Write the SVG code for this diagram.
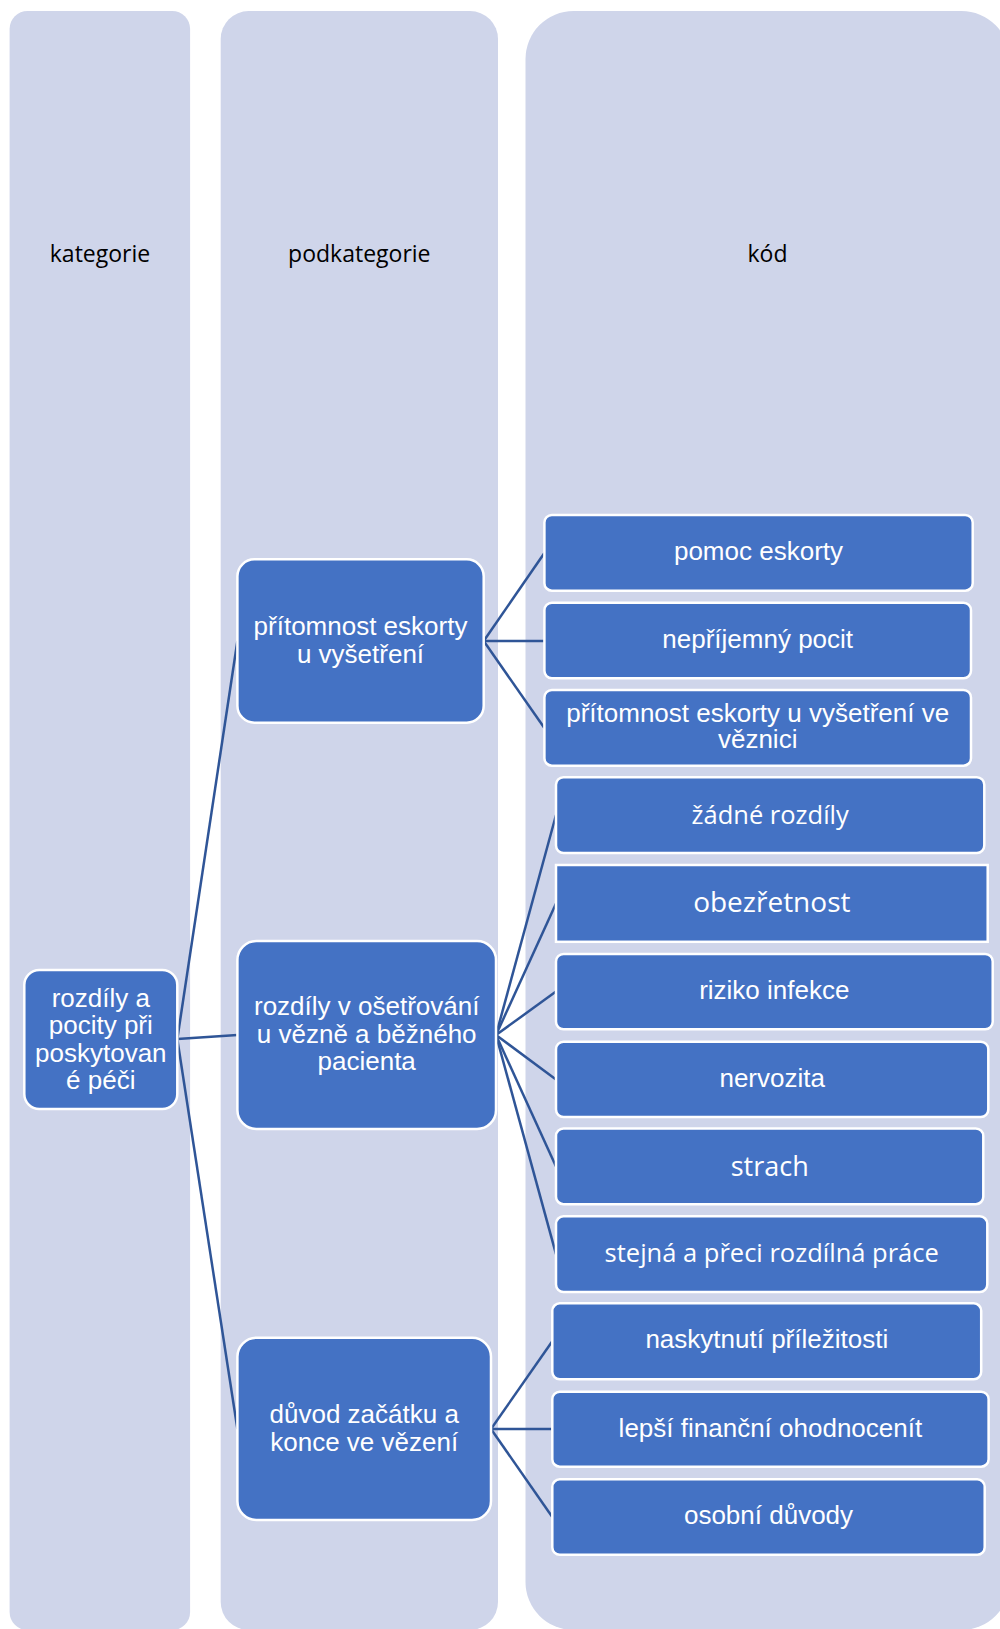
<svg xmlns="http://www.w3.org/2000/svg" width="1000" height="1629" viewBox="0 0 1000 1629">
<style>
.col{fill:#CFD5EA}
.hdr{font-family:"Open Sans","Liberation Sans",sans-serif;font-size:23px;fill:#000;text-anchor:middle}
.nd{fill:#4472C4;stroke:#FFFFFF;stroke-width:2.5}
.t{font-family:"Liberation Sans",Arial,sans-serif;font-size:26px;fill:#FFFFFF;text-anchor:middle}
.h{font-family:"Open Sans","Liberation Sans",sans-serif;font-size:25.5px;fill:#FFFFFF;text-anchor:middle}
.ln{stroke:#2F5597;stroke-width:2.5;fill:none}
</style>
<rect width="1000" height="1629" fill="#FFFFFF"/>
<g id="columns">
<rect class="col" x="9.6" y="11" width="180.5" height="1619" rx="18" ry="18"/>
<rect class="col" x="220.7" y="11" width="277.3" height="1619" rx="28" ry="28"/>
<rect class="col" x="525.5" y="11" width="484" height="1619" rx="48" ry="48"/>
<text class="hdr" x="100" y="262">kategorie</text>
<text class="hdr" x="359.3" y="262">podkategorie</text>
<text class="hdr" x="767.5" y="262">kód</text>
</g>
<g id="connectors">
<line class="ln" x1="177.3" y1="1039" x2="237.4" y2="641"/>
<line class="ln" x1="177.3" y1="1039" x2="237.4" y2="1035"/>
<line class="ln" x1="177.3" y1="1039" x2="237.4" y2="1429"/>
<line class="ln" x1="483.7" y1="641" x2="544.4" y2="553"/>
<line class="ln" x1="483.7" y1="641" x2="544.4" y2="641"/>
<line class="ln" x1="483.7" y1="641" x2="544.4" y2="728"/>
<line class="ln" x1="496" y1="1035" x2="556" y2="815"/>
<line class="ln" x1="496" y1="1035" x2="556" y2="903.4"/>
<line class="ln" x1="496" y1="1035" x2="556" y2="991.6"/>
<line class="ln" x1="496" y1="1035" x2="556" y2="1079.4"/>
<line class="ln" x1="496" y1="1035" x2="556" y2="1166.4"/>
<line class="ln" x1="496" y1="1035" x2="556" y2="1254.2"/>
<line class="ln" x1="491" y1="1429" x2="552.3" y2="1341.3"/>
<line class="ln" x1="491" y1="1429" x2="552.3" y2="1429"/>
<line class="ln" x1="491" y1="1429" x2="552.3" y2="1517"/>
</g>
<g id="root">
<rect class="nd" x="24.3" y="970" width="153" height="139" rx="15"/>
<text class="t" x="100.8" y="1006.7">rozdíly a</text>
<text class="t" x="100.8" y="1034">pocity při</text>
<text class="t" x="100.8" y="1061.7">poskytovan</text>
<text class="t" x="100.8" y="1088.5">é péči</text>
</g>
<g id="sub1">
<rect class="nd" x="237.4" y="559.3" width="246.3" height="163.4" rx="17"/>
<text class="t" x="360.5" y="635">přítomnost eskorty</text>
<text class="t" x="360.5" y="662.5">u vyšetření</text>
</g>
<g id="sub2">
<rect class="nd" x="237.4" y="941" width="258.6" height="188" rx="19"/>
<text class="t" x="366.7" y="1015">rozdíly v ošetřování</text>
<text class="t" x="366.7" y="1042.5">u vězně a běžného</text>
<text class="t" x="366.7" y="1070">pacienta</text>
</g>
<g id="sub3">
<rect class="nd" x="237.4" y="1337.7" width="253.6" height="182.3" rx="19"/>
<text class="t" x="364.2" y="1423">důvod začátku a</text>
<text class="t" x="364.2" y="1450.5">konce ve vězení</text>
</g>
<g id="code1">
<rect class="nd" x="544.4" y="515" width="428.3" height="75.7" rx="7.5"/>
<text class="t" x="758.5" y="560">pomoc eskorty</text>
</g>
<g id="code2">
<rect class="nd" x="544.4" y="602.7" width="426.6" height="75.6" rx="7.5"/>
<text class="t" x="757.7" y="648.3">nepříjemný pocit</text>
</g>
<g id="code3">
<rect class="nd" x="544.4" y="690" width="426.6" height="75.7" rx="7.5"/>
<text class="t" x="757.7" y="721.7">přítomnost eskorty u vyšetření ve</text>
<text class="t" x="757.7" y="748.3">věznici</text>
</g>
<g id="code4">
<rect class="nd" x="556" y="777.2" width="428.3" height="75.8" rx="7.5"/>
<text class="h" x="770.2" y="823.7">žádné rozdíly</text>
</g>
<g id="code5">
<rect class="nd" x="556" y="865" width="431.7" height="76.8" stroke-width="2"/>
<text class="h" x="771.8" y="912.2" style="font-size:28px">obezřetnost</text>
</g>
<g id="code6">
<rect class="nd" x="556" y="953.9" width="436.7" height="75.4" rx="7.5"/>
<text class="t" x="774.3" y="999.3">riziko infekce</text>
</g>
<g id="code7">
<rect class="nd" x="556" y="1041.7" width="432.3" height="75.4" rx="7.5"/>
<text class="t" x="772.2" y="1087.1">nervozita</text>
</g>
<g id="code8">
<rect class="nd" x="556" y="1128.5" width="427.3" height="75.7" rx="7.5"/>
<text class="h" x="769.7" y="1175.6" style="font-size:27px">strach</text>
</g>
<g id="code9">
<rect class="nd" x="556" y="1216.3" width="431.3" height="75.7" rx="7.5"/>
<text class="h" x="771.7" y="1262">stejná a přeci rozdílná práce</text>
</g>
<g id="code10">
<rect class="nd" x="552.3" y="1303.3" width="428.9" height="76" rx="7.5"/>
<text class="t" x="766.8" y="1348.3">naskytnutí příležitosti</text>
</g>
<g id="code11">
<rect class="nd" x="552.3" y="1391.7" width="436.3" height="75" rx="7.5"/>
<text class="t" x="770.4" y="1436.7">lepší finanční ohodnocenít</text>
</g>
<g id="code12">
<rect class="nd" x="552.3" y="1479.3" width="432.4" height="75.5" rx="7.5"/>
<text class="t" x="768.5" y="1524.3">osobní důvody</text>
</g>
</svg>
